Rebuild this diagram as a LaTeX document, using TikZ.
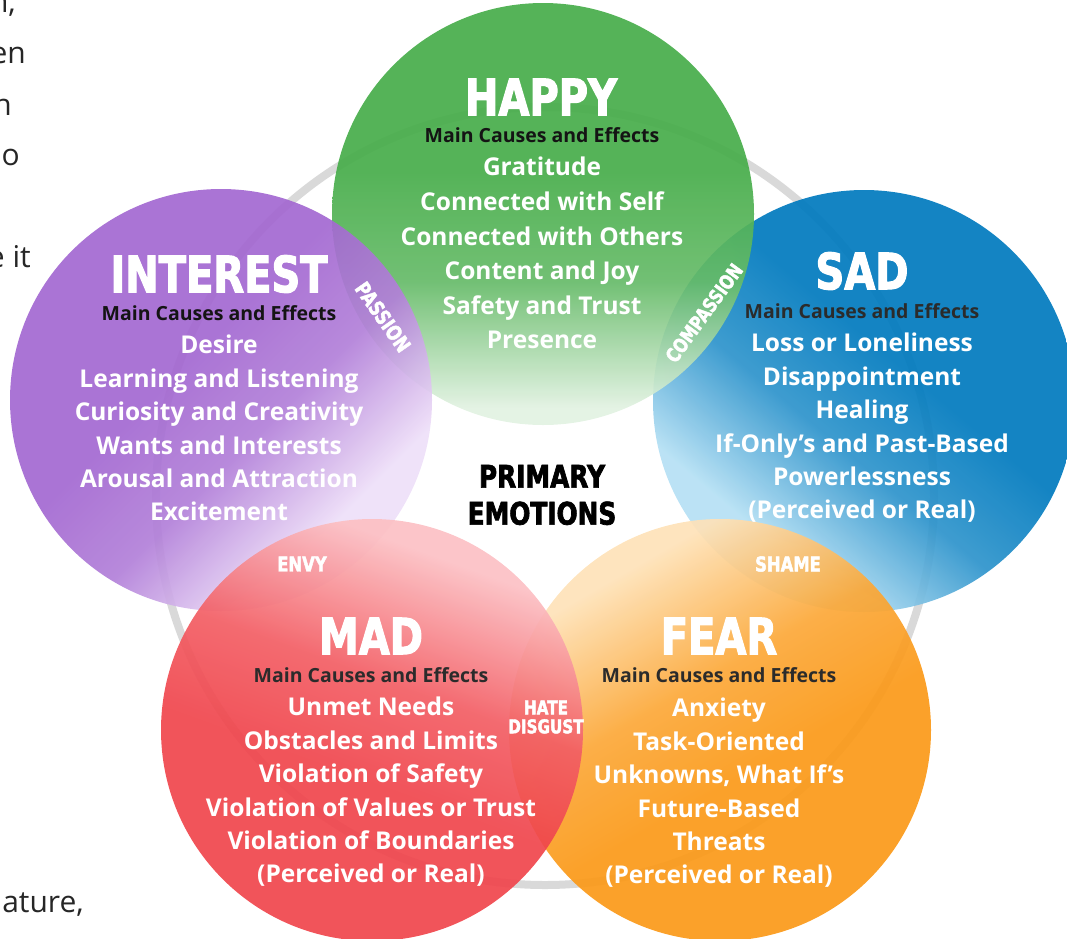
\documentclass[tikz,border=0pt]{standalone}
\usepackage{fontspec}
\setmainfont{Open Sans}
\newfontfamily\headfont{DejaVu Sans}[FakeStretch=0.8, FakeBold=2.2]
\newfontfamily\pagefont{Open Sans}

% petal colours (outer edge / inner edge)
\definecolor{happydeep}{HTML}{47AD4A}
\definecolor{happylight}{HTML}{E2F2E2}
\definecolor{interestdeep}{HTML}{A368D1}
\definecolor{interestlight}{HTML}{EEDFF8}
\definecolor{saddeep}{HTML}{007ABE}
\definecolor{sadlight}{HTML}{B5E0F4}
\definecolor{maddeep}{HTML}{F0454C}
\definecolor{madlight}{HTML}{FCC0C4}
\definecolor{feardeep}{HTML}{FB9918}
\definecolor{fearlight}{HTML}{FEE2B8}
\definecolor{ringgray}{HTML}{D9D9D9}
\definecolor{subgray}{HTML}{2B2B2B}

% fades: light on the inner side, deep on the outer side
\pgfdeclareverticalshading{happyfade}{100bp}{color(0bp)=(happylight); color(27bp)=(happylight); color(42bp)=(happydeep!80!happylight); color(55bp)=(happydeep); color(100bp)=(happydeep)}
\pgfdeclareverticalshading{interestfade}{100bp}{color(0bp)=(interestlight); color(30bp)=(interestlight); color(44bp)=(interestdeep!80!interestlight); color(56bp)=(interestdeep); color(100bp)=(interestdeep)}
\pgfdeclareverticalshading{sadfade}{100bp}{color(0bp)=(sadlight); color(30bp)=(sadlight); color(44bp)=(saddeep!75!sadlight); color(56bp)=(saddeep); color(100bp)=(saddeep)}
\pgfdeclareverticalshading{madfade}{100bp}{color(0bp)=(madlight); color(28bp)=(madlight); color(44bp)=(maddeep!80!madlight); color(56bp)=(maddeep); color(100bp)=(maddeep)}
\pgfdeclareverticalshading{fearfade}{100bp}{color(0bp)=(fearlight); color(28bp)=(fearlight); color(44bp)=(feardeep!80!fearlight); color(56bp)=(feardeep); color(100bp)=(feardeep)}

\tikzset{
  petal/.style={opacity=.92},
  title/.style={font=\headfont\bfseries\fontsize{50}{50}\selectfont, text=white, inner sep=0pt},
  subtitle/.style={font=\bfseries\fontsize{19.5}{20}\selectfont, inner sep=0pt},
  items/.style={font=\bfseries\fontsize{24.5}{33.4}\selectfont, text=white, align=center, inner sep=0pt, anchor=north},
  blend/.style={font=\headfont\bfseries\fontsize{20.5}{19}\selectfont, text=white, inner sep=0pt, align=center},
  edge text/.style={font=\pagefont\fontsize{30}{30}\selectfont, text=black!85, anchor=base east, inner sep=0pt}
}

\begin{document}
\begin{tikzpicture}[x=1pt, y=-1pt]
    \useasboundingbox (0,0) rectangle (1067,938);

    % Centres of the five petals
    \coordinate (H) at (543,214);
    \coordinate (I) at (221,400);
    \coordinate (S) at (864,401);
    \coordinate (M) at (372,730);
    \coordinate (F) at (720,730);
    \coordinate (C) at (545,496);

    % Grey ring behind the petals
    \draw[ringgray, line width=8pt] (C) circle[radius=389pt];

    % The petals, back to front
    \shade[petal, shading=sadfade, shading angle=-40] (S) circle[radius=211pt];
    \shade[petal, shading=happyfade, shading angle=0] (H) circle[radius=211pt];
    \shade[petal, shading=interestfade, shading angle=45] (I) circle[radius=211pt];
    \shade[petal, shading=fearfade, shading angle=-150] (F) circle[radius=211pt];
    \shade[petal, shading=madfade, shading angle=160] (M) circle[radius=211pt];

    % HAPPY
    \node[title] (happy-title) at (541,97) {HAPPY};
    \node[subtitle, text=black!92] (happy-sub) at (542,135) {Main Causes and Effects};
    \node[items, font=\bfseries\fontsize{24.5}{34.6}\selectfont] (happy-list) at (542,157) {Gratitude\\Connected with Self\\Connected with Others\\Content and Joy\\Safety and Trust\\Presence};

    % INTEREST
    \node[title] (interest-title) at (219,274) {INTEREST};
    \node[subtitle, text=black!92] (interest-sub) at (219,313) {Main Causes and Effects};
    \node[items] (interest-list) at (219,335) {Desire\\Learning and Listening\\Curiosity and Creativity\\Wants and Interests\\Arousal and Attraction\\Excitement};

    % SAD
    \node[title] (sad-title) at (862,271) {SAD};
    \node[subtitle, text=subgray] (sad-sub) at (862,311) {Main Causes and Effects};
    \node[items] (sad-list) at (862,333) {Loss or Loneliness\\Disappointment\\Healing\\If-Only’s and Past-Based\\Powerlessness\\(Perceived or Real)};

    % MAD
    \node[title] (mad-title) at (371,636) {MAD};
    \node[subtitle, text=subgray] (mad-sub) at (371,675) {Main Causes and Effects};
    \node[items] (mad-list) at (371,697) {Unmet Needs\\Obstacles and Limits\\Violation of Safety\\Violation of Values or Trust\\Violation of Boundaries\\(Perceived or Real)};

    % FEAR
    \node[title] (fear-title) at (719,636) {FEAR};
    \node[subtitle, text=subgray] (fear-sub) at (719,675) {Main Causes and Effects};
    \node[items] (fear-list) at (719,698) {Anxiety\\Task-Oriented\\Unknowns, What If's\\Future-Based\\Threats\\(Perceived or Real)};

    % Overlaps
    \node[blend, rotate=-55] (passion) at (383,317) {PASSION};
    \node[blend, rotate=54, font=\headfont\bfseries\fontsize{19.5}{19}\selectfont] (compassion) at (704,313) {COMPASSION};
    \node[blend] (envy) at (302,564) {ENVY};
    \node[blend] (shame) at (788,564) {SHAME};
    \node[blend, font=\headfont\bfseries\fontsize{19}{19}\selectfont] (hate) at (546,717) {HATE\\DISGUST};

    % Centre label
    \node[font=\headfont\bfseries\fontsize{31}{37}\selectfont, align=center, inner sep=0pt] (primary) at (542,495) {PRIMARY\\EMOTIONS};

    % Page text running past the left edge
    \node[edge text] (line-a) at (16,12) {n,};
    \node[edge text] (line-b) at (26,63) {en};
    \node[edge text] (line-c) at (12,115) {n};
    \node[edge text] (line-d) at (20,165) {o};
    \node[edge text] (line-e) at (31,267) {e it};
    \node[edge text] (line-f) at (84,912) {ature,};
\end{tikzpicture}
\end{document}
